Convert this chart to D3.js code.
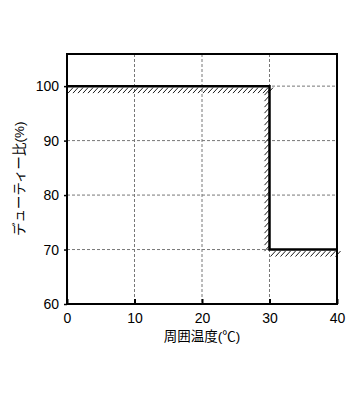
<!DOCTYPE html>
<html>
<head>
<meta charset="utf-8">
<script src="https://cdn.jsdelivr.net/npm/d3@7"></script>
<style>
  body { margin: 0; background: #fff; }
  text { font-family: "Liberation Sans", "Noto Sans CJK JP", sans-serif; }
</style>
</head>
<body>
<div id="chart"></div>
<script>
// duty ratio vs ambient temperature
const tempC = [0, 30, 30, 40];
const dutyPct = [100, 100, 70, 70];
const xTicks = [0, 10, 20, 30, 40];
const yTicks = [60, 70, 80, 90, 100];
const xLabel = "周囲温度(℃)";
const yLabel = "デューティー比(%)";

const margin = {top: 54, right: 16, bottom: 106, left: 67},
    width = 353 - margin.left - margin.right,
    height = 410 - margin.top - margin.bottom;

const svg = d3.select("#chart")
    .append("svg")
        .attr("width", 353)
        .attr("height", 410)
    .append("g")
        .attr("transform", `translate(${margin.left},${margin.top})`);

const x = d3.scaleLinear().domain([0, 40]).range([0, width]);
const y = d3.scaleLinear().domain([60, 105.9]).range([height, 0]);

// grid
svg.append("g")
    .selectAll("line")
    .data(xTicks.slice(1, -1))
    .enter().append("line")
        .attr("x1", d => x(d)).attr("x2", d => x(d))
        .attr("y1", 0).attr("y2", height)
        .attr("stroke", "#777").attr("stroke-width", 1)
        .attr("stroke-dasharray", "3,2");
svg.append("g")
    .selectAll("line")
    .data(yTicks.slice(1))
    .enter().append("line")
        .attr("x1", 0).attr("x2", width)
        .attr("y1", d => y(d)).attr("y2", d => y(d))
        .attr("stroke", "#777").attr("stroke-width", 1)
        .attr("stroke-dasharray", "3,2");

// axes
svg.append("g")
    .attr("transform", `translate(0,${height})`)
    .call(d3.axisBottom(x).tickValues(xTicks).tickSize(-5).tickPadding(9).tickFormat(d3.format("d")))
    .call(g => g.select(".domain").remove())
    .call(g => g.selectAll("line").attr("stroke", "#000").attr("stroke-width", 2))
    .selectAll("text").attr("font-size", 14).attr("fill", "#000");
svg.append("g")
    .call(d3.axisLeft(y).tickValues(yTicks).tickSize(3).tickPadding(5).tickFormat(d3.format("d")))
    .call(g => g.select(".domain").remove())
    .call(g => g.selectAll("line").attr("stroke", "#000").attr("stroke-width", 1.5))
    .selectAll("text").attr("font-size", 14).attr("fill", "#000");

// frame
svg.append("rect")
    .attr("x", 0).attr("y", 0)
    .attr("width", width).attr("height", height)
    .attr("fill", "none").attr("stroke", "#000").attr("stroke-width", 2);

// hatching along the limit line
const pts = tempC.map((t, i) => [x(t), y(dutyPct[i])]);
const hatch = svg.append("g").attr("stroke", "#000").attr("stroke-width", 0.9);
for (let i = 0; i < pts.length - 1; i++) {
    const [x0, y0] = pts[i], [x1, y1] = pts[i + 1];
    if (y0 === y1) {
        for (let hx = x0 + 1; hx < x1 - 1; hx += 5) {
            hatch.append("line")
                .attr("x1", hx).attr("y1", y0 + 7)
                .attr("x2", hx + 5).attr("y2", y0 + 1.5);
        }
    } else {
        for (let hy = y0 + 4; hy < y1 + 2; hy += 6) {
            hatch.append("line")
                .attr("x1", x0 - 5).attr("y1", hy + 5)
                .attr("x2", x0 - 0.5).attr("y2", hy);
        }
    }
}

// limit line
svg.append("path")
    .datum(pts)
    .attr("d", d3.line())
    .attr("fill", "none")
    .attr("stroke", "#000")
    .attr("stroke-width", 2.5);

// labels
svg.append("text")
    .attr("x", width / 2)
    .attr("y", height + 37)
    .style("text-anchor", "middle")
    .attr("font-size", 13.5)
    .text(xLabel);
svg.append("text")
    .attr("transform", `translate(${-43},${y(83)}) rotate(-90)`)
    .style("text-anchor", "middle")
    .attr("font-size", 13.5)
    .text(yLabel);
</script>
</body>
</html>
